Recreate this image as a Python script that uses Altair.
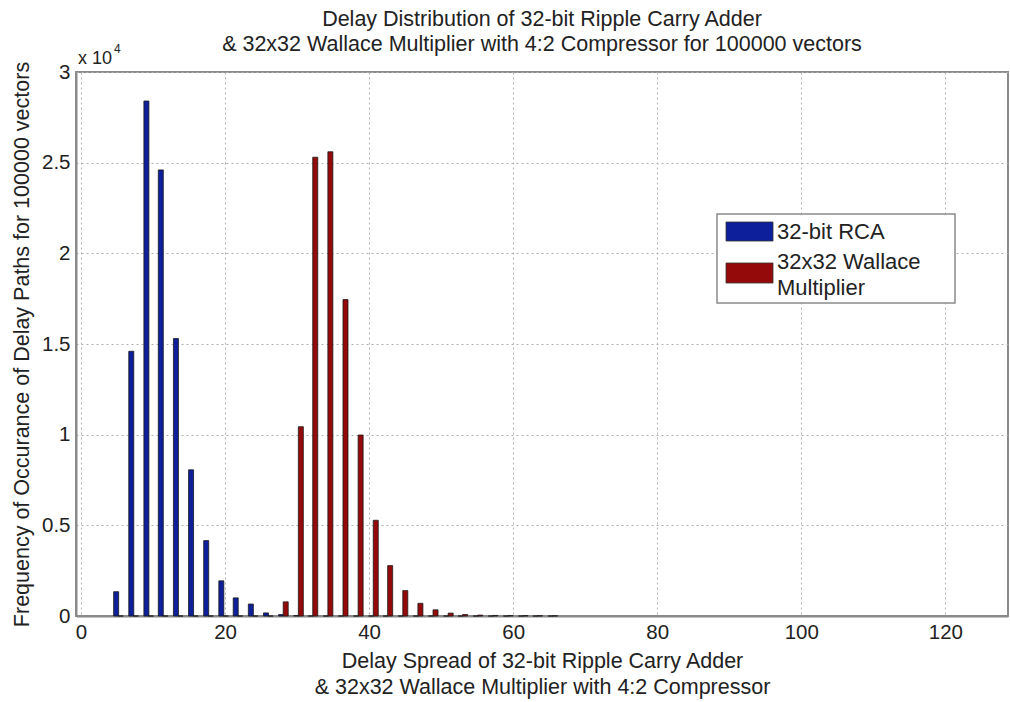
import altair as alt
import pandas as pd

# ---- data ----
bin_centers = [5.2, 7.3, 9.4, 11.4, 13.5, 15.6, 17.7, 19.8, 21.8, 23.9,
               26.0, 28.1, 30.2, 32.2, 34.3, 36.4, 38.5, 40.6, 42.6, 44.7,
               46.8, 48.9, 51.0, 53.0, 55.1, 57.2, 59.3, 61.4, 63.4, 65.5]
rca_counts = [1340, 14600, 28400, 24600, 15300, 8060, 4160, 1940, 1000, 660,
              170, 80, 20, 0, 0, 0, 0, 0, 0, 0,
              0, 0, 0, 0, 0, 0, 0, 0, 0, 0]
wallace_counts = [0, 0, 0, 0, 0, 0, 0, 0, 0, 0,
                  0, 780, 10440, 25300, 25600, 17450, 9980, 5280, 2780, 1400,
                  700, 340, 160, 80, 50, 30, 25, 20, 15, 10]
series_names = ["32-bit RCA", "32x32 Wallace Multiplier"]
series_colors = ["#0d1f9a", "#940a0a"]
x_ticks = [0, 20, 40, 60, 80, 100, 120]
y_ticks = [0, 5000, 10000, 15000, 20000, 25000, 30000]

rows = []
for c, a, b in zip(bin_centers, rca_counts, wallace_counts):
    rows.append({"delay": c, "series": series_names[0], "count": a, "side": -1})
    rows.append({"delay": c, "series": series_names[1], "count": b, "side": 1})
df = pd.DataFrame(rows)

FONT = "Liberation Sans"
W, H = 932, 544

bars = alt.Chart(df).transform_calculate(
    xpos="datum.delay + datum.side * 0.32"
).mark_bar(size=5, stroke="#1a1a1a", strokeWidth=0.8).encode(
    x=alt.X("xpos:Q",
            scale=alt.Scale(domain=[0, 128], nice=False, zero=False),
            axis=alt.Axis(values=x_ticks, format="d",
                          title=["Delay Spread of 32-bit Ripple Carry Adder",
                                 "& 32x32 Wallace Multiplier with 4:2 Compressor"])),
    y=alt.Y("count:Q",
            scale=alt.Scale(domain=[0, 30000], nice=False),
            axis=alt.Axis(values=y_ticks,
                          labelExpr="format(datum.value/10000, '~g')",
                          title="Frequency of Occurance of Delay Paths for 100000 vectors")),
    color=alt.Color("series:N",
                    scale=alt.Scale(domain=series_names, range=series_colors),
                    legend=None),
)

one = pd.DataFrame({"k": [0]})
base = alt.Chart(one)

exp_text = base.mark_text(font=FONT, fontSize=18, align="left", baseline="middle",
                          color="#222").encode(
    x=alt.value(2), y=alt.value(-13), text=alt.value("x 10"))
exp_sup = base.mark_text(font=FONT, fontSize=12, align="left", baseline="middle",
                         color="#222").encode(
    x=alt.value(38), y=alt.value(-23), text=alt.value("4"))

LEG_FS = 22
leg_box = base.mark_rect(fill="white", stroke="#8a8a8a", strokeWidth=1.5).encode(
    x=alt.value(641), x2=alt.value(879), y=alt.value(142), y2=alt.value(231))
leg_blue = base.mark_rect(fill=series_colors[0], stroke="#333", strokeWidth=0.8).encode(
    x=alt.value(650), x2=alt.value(697), y=alt.value(150), y2=alt.value(169))
leg_red = base.mark_rect(fill=series_colors[1], stroke="#333", strokeWidth=0.8).encode(
    x=alt.value(650), x2=alt.value(697), y=alt.value(191), y2=alt.value(211))
leg_t1 = base.mark_text(font=FONT, fontSize=LEG_FS, align="left", baseline="middle",
                        color="#222").encode(
    x=alt.value(701), y=alt.value(160), text=alt.value("32-bit RCA"))
leg_t2 = base.mark_text(font=FONT, fontSize=LEG_FS, align="left", baseline="middle",
                        color="#222").encode(
    x=alt.value(701), y=alt.value(190), text=alt.value("32x32 Wallace"))
leg_t3 = base.mark_text(font=FONT, fontSize=LEG_FS, align="left", baseline="middle",
                        color="#222").encode(
    x=alt.value(701), y=alt.value(216), text=alt.value("Multiplier"))

chart = alt.layer(
    bars, exp_text, exp_sup, leg_box, leg_blue, leg_red, leg_t1, leg_t2, leg_t3
).properties(
    width=W, height=H,
    autosize=alt.AutoSizeParams(type="none"),
    padding={"left": 76, "top": 72, "right": 2, "bottom": 86},
    title=alt.TitleParams(
        text=["Delay Distribution of 32-bit Ripple Carry Adder",
              "& 32x32 Wallace Multiplier with 4:2 Compressor for 100000 vectors"],
        font=FONT, fontSize=21.5, fontWeight="normal", color="#222",
        anchor="middle", lineHeight=25, offset=-12),
).configure_view(
    stroke="#8a8a8a", strokeWidth=2
).configure_axis(
    labelFont=FONT, labelFontSize=20.5, labelColor="#222",
    titleFont=FONT, titleFontSize=21.5, titleFontWeight="normal", titleColor="#222",
    domainColor="#8a8a8a", domainWidth=2,
    grid=True, gridColor="#b0b0b0", gridDash=[2, 3], gridWidth=1,
    tickSize=0, labelPadding=6,
).configure_axisX(
    titlePadding=8, titleLineHeight=26,
).configure_axisY(
    titlePadding=8,
)

chart.save("out.html", embed_options={"renderer": "svg", "actions": False})
